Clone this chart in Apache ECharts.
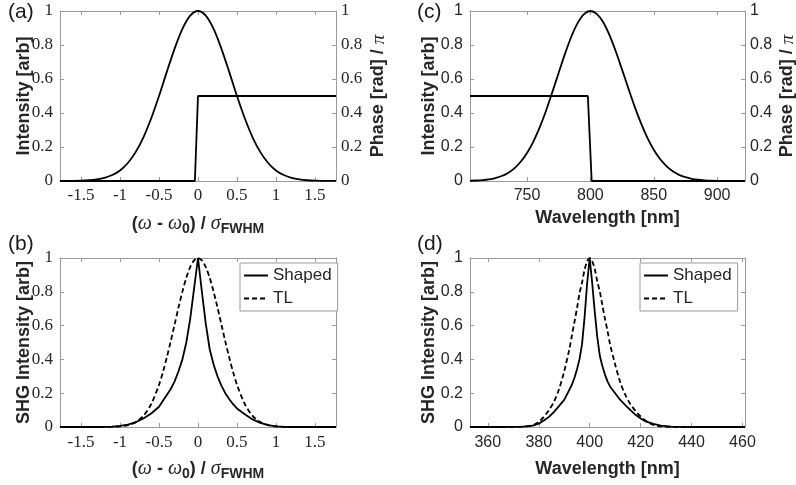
<!DOCTYPE html>
<html><head><meta charset="utf-8">
<script src="https://cdn.jsdelivr.net/npm/echarts@6/dist/echarts.min.js"></script>
<style>html,body{margin:0;padding:0;background:#fff}#c{width:796px;height:485px}</style>
</head><body><div id="c"></div>
<script>
// ---------- data ----------
// (a) spectral intensity and phase vs normalised frequency
const aX = [-1.77,-1.7,-1.6,-1.5,-1.4,-1.3,-1.2,-1.1,-1.0,-0.9,-0.8,-0.7,-0.6,-0.5,-0.4,-0.3,-0.2,-0.1,0,0.1,0.2,0.3,0.4,0.5,0.6,0.7,0.8,0.9,1.0,1.1,1.2,1.3,1.4,1.5,1.6,1.7,1.77];
const aIntensity = [0.0002,0.0003,0.0008,0.002,0.0044,0.009,0.018,0.035,0.062,0.106,0.17,0.257,0.369,0.5,0.642,0.779,0.895,0.973,1,0.973,0.895,0.779,0.642,0.5,0.369,0.257,0.17,0.106,0.062,0.035,0.018,0.009,0.0044,0.002,0.0008,0.0003,0.0002];
const aPhaseX = [-1.77,-0.04,0,1.77];
const aPhase = [0,0,0.5,0.5];
// (c) spectral intensity and phase vs wavelength
const cX = [705,710,715,720,725,730,735,740,745,750,755,760,765,770,775,780,785,790,795,800,805,810,815,820,825,830,835,840,845,850,855,860,865,870,875,880,885,890,895,900,905,910,915,922];
const cIntensity = [0.0015,0.0029,0.0055,0.0099,0.0173,0.0292,0.0475,0.0746,0.113,0.165,0.232,0.315,0.413,0.523,0.637,0.749,0.85,0.93,0.982,1,0.983,0.935,0.859,0.763,0.655,0.544,0.436,0.339,0.254,0.184,0.129,0.0874,0.0573,0.0363,0.0222,0.0131,0.0075,0.0042,0.0022,0.0011,0.0006,0.0003,0.0001,0];
const cPhaseX = [705,798,801,922];
const cPhase = [0.5,0.5,0,0];
// (b) SHG spectra vs normalised frequency
const bX = [-1.77,-1.3,-1.2,-1.1,-1.0,-0.9,-0.8,-0.7,-0.6,-0.5,-0.45,-0.4,-0.35,-0.3,-0.25,-0.2,-0.15,-0.1,-0.05,0,0.05,0.1,0.15,0.2,0.25,0.3,0.35,0.4,0.45,0.5,0.6,0.7,0.8,0.9,1.0,1.1,1.2,1.3,1.77];
const bShaped = [0,0,0.0005,0.002,0.006,0.014,0.028,0.05,0.08,0.12,0.155,0.19,0.225,0.27,0.33,0.40,0.50,0.64,0.82,1,0.80,0.61,0.46,0.37,0.30,0.245,0.20,0.165,0.135,0.11,0.075,0.045,0.024,0.011,0.004,0.001,0,0,0];
const bTL = [0,0,0.0003,0.0012,0.0039,0.0112,0.0288,0.066,0.136,0.25,0.325,0.412,0.507,0.607,0.707,0.801,0.883,0.946,0.986,1,0.986,0.946,0.883,0.801,0.707,0.607,0.507,0.412,0.325,0.25,0.136,0.066,0.0288,0.0112,0.0039,0.0012,0.0003,0,0];
// (d) SHG spectra vs wavelength
const dX = [353,360,365,370,374,377,378,380,382,384,386,388,390,392,393,394,395,396,397,398,399,400,401,402,403,404,405,406,407,408,410,412,414,416,418,420,422,425,428,432,440,461];
const dShaped = [0,0,0,0.0003,0.002,0.007,0.01,0.02,0.038,0.06,0.09,0.125,0.16,0.22,0.25,0.29,0.34,0.40,0.49,0.65,0.85,1,0.85,0.68,0.53,0.42,0.36,0.31,0.27,0.24,0.20,0.16,0.13,0.10,0.072,0.05,0.033,0.018,0.008,0.002,0,0];
const dTL = [0,0,0,0.0003,0.002,0.008,0.012,0.03,0.06,0.10,0.15,0.225,0.33,0.46,0.54,0.62,0.70,0.79,0.855,0.93,0.98,1,0.98,0.935,0.86,0.80,0.72,0.64,0.57,0.49,0.37,0.265,0.19,0.135,0.095,0.062,0.037,0.012,0.004,0.0008,0,0];
// tick labels
const freqTicks = [-1.5,-1,-0.5,0,0.5,1,1.5];
const fundTicks = [750,800,850,900];
const shgTicks = [360,380,400,420,440,460];
const legendNames = ['Shaped','TL'];
const panelLabels = ['(a)','(c)','(b)','(d)'];

// ---------- styling ----------
const AX = '#9a9a9a', TXT = '#262626';
const SANS = '"Liberation Sans", Arial, sans-serif';
const SERIF = '"Liberation Serif", serif';
const zip = (xs, ys) => xs.map((x, i) => [x, ys[i]]);

const grids = [
  {left:60, top:11, width:276, height:170},
  {left:470, top:11, width:275, height:170},
  {left:60, top:258, width:276, height:169},
  {left:470, top:258, width:275, height:169}
].map(g => Object.assign(g, {containLabel:false, outerBoundsMode:'none'}));

const richFreq = {
  p: {fontFamily: SANS, fontWeight: 'bold', fontSize: 18, color: TXT, lineHeight: 24},
  w: {fontFamily: SERIF, fontStyle: 'italic', fontSize: 20, color: TXT, lineHeight: 24},
  s: {fontFamily: SANS, fontWeight: 'bold', fontSize: 14, color: TXT, lineHeight: 12, verticalAlign: 'bottom'}
};
const freqName = '{p|(}{w|ω}{p| - }{w|ω}{s|0}{p|) / }{w|σ}{s|FWHM}';
const richPhase = {
  b: {fontFamily: SANS, fontWeight: 'bold', fontSize: 18, color: TXT},
  i: {fontFamily: SERIF, fontStyle: 'italic', fontSize: 19, color: TXT}
};
const phaseName = '{b|Phase [rad] / }{i|π}';

function tick(custom) {
  const t = {show:true, inside:true, length:4, lineStyle:{color:AX, width:1}};
  if (custom) t.customValues = custom;
  return t;
}
function line() { return {show:true, onZero:false, lineStyle:{color:AX, width:1}}; }

function xPair(g, min, max, ticks, family, size, margin, name, gap, rich) {
  const nts = rich ? {rich: rich} : {fontFamily: SANS, fontWeight:'bold', fontSize:18, color:TXT};
  return [
    {type:'value', gridIndex:g, position:'bottom', min, max, splitLine:{show:false},
     axisLine: line(), axisTick: tick(ticks),
     axisLabel:{show:true, customValues:ticks, fontFamily:family, fontSize:size, color:TXT, margin:margin},
     name, nameLocation:'middle', nameGap:gap, nameMoveOverlap:false, nameTextStyle:nts},
    {type:'value', gridIndex:g, position:'top', min, max, splitLine:{show:false},
     axisLine: line(), axisTick: tick(ticks), axisLabel:{show:false}}
  ];
}
function yPair(g, family, size, leftName, leftGap, rightShow, rightGap) {
  const left = {type:'value', gridIndex:g, position:'left', min:0, max:1, interval:0.2, splitLine:{show:false},
    axisLine: line(), axisTick: tick(),
    axisLabel:{show:true, fontFamily:family, fontSize:size, color:TXT, margin:7},
    name:leftName, nameLocation:'middle', nameGap:leftGap, nameRotate:90, nameMoveOverlap:false,
    nameTextStyle:{fontFamily:SANS, fontWeight:'bold', fontSize:18, color:TXT}};
  const right = {type:'value', gridIndex:g, position:'right', min:0, max:1, interval:0.2, splitLine:{show:false},
    axisLine: line(), axisTick: tick(),
    axisLabel:{show:rightShow, fontFamily:family, fontSize:size, color:TXT, margin:5}};
  if (rightShow) {
    Object.assign(right, {name:phaseName, nameLocation:'middle', nameGap:rightGap, nameRotate:90,
      nameMoveOverlap:false, nameTextStyle:{rich:richPhase}});
  }
  return [left, right];
}

const xAxis = [].concat(
  xPair(0, -1.77, 1.77, freqTicks, SERIF, 17, 6, freqName, 31, richFreq),
  xPair(1, 705, 922, fundTicks, SANS, 16, 7, 'Wavelength [nm]', 28),
  xPair(2, -1.77, 1.77, freqTicks, SERIF, 17, 7, freqName, 30, richFreq),
  xPair(3, 353, 461, shgTicks, SANS, 16, 8, 'Wavelength [nm]', 33)
);
const yAxis = [].concat(
  yPair(0, SERIF, 17, 'Intensity [arb]', 27, true, 33),
  yPair(1, SANS, 16, 'Intensity [arb]', 32, true, 33),
  yPair(2, SERIF, 17, 'SHG Intensity [arb]', 27, false),
  yPair(3, SANS, 16, 'SHG Intensity [arb]', 32, false)
);

function s(name, xi, yi, data, opts) {
  return Object.assign({type:'line', name, xAxisIndex:xi, yAxisIndex:yi, data, symbol:'none',
    showSymbol:false, silent:true, animation:false, color:'#000',
    lineStyle:{color:'#000', width:1.8}}, opts || {});
}
const dashed = {lineStyle:{color:'#000', width:1.8, type:[5,3]}, smooth:0.3};

const series = [
  s('Intensity (a)', 0, 0, zip(aX, aIntensity), {smooth:0.3}),
  s('Phase (a)', 0, 1, zip(aPhaseX, aPhase)),
  s('Intensity (c)', 2, 2, zip(cX, cIntensity), {smooth:0.3}),
  s('Phase (c)', 2, 3, zip(cPhaseX, cPhase)),
  s('Shaped', 4, 4, zip(bX, bShaped)),
  s('TL', 4, 4, zip(bX, bTL), dashed),
  s('Shaped', 6, 6, zip(dX, dShaped)),
  s('TL', 6, 6, zip(dX, dTL), dashed)
];

function legendAt(left, top) {
  return {data: legendNames, orient:'vertical', left, top, itemWidth:24, itemHeight:14, itemGap:6,
    padding:[4,6,4,3], borderColor:'#9a9a9a', borderWidth:1, backgroundColor:'#fff',
    selectedMode:false, itemStyle:{opacity:0, borderWidth:0},
    textStyle:{fontFamily:SANS, fontSize:17, color:TXT}};
}

const labelPos = [[8,2],[417,2],[8,234],[417,234]];
const graphic = panelLabels.map((t, i) => ({type:'text', left:labelPos[i][0], top:labelPos[i][1],
  style:{text:t, fontFamily:SANS, fontSize:21, fill:'#1a1a1a'}}));

const chart = echarts.init(document.getElementById('c'), null, {renderer:'canvas'});
chart.setOption({
  animation:false,
  backgroundColor:'#fff',
  grid: grids,
  xAxis, yAxis, series,
  legend: [legendAt(240, 263), legendAt(640, 263)],
  graphic
});
</script></body></html>
